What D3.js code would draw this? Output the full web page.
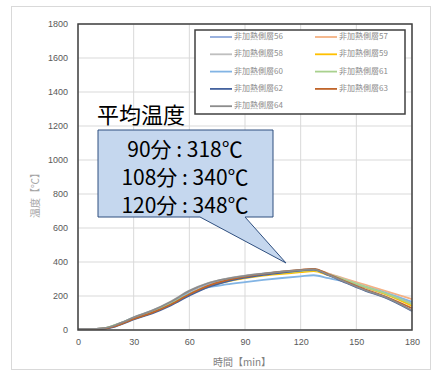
<!DOCTYPE html>
<html>
<head>
<meta charset="utf-8">
<script src="https://cdn.jsdelivr.net/npm/d3@7"></script>
<style>
  body { margin: 0; background: #fff; }
  svg text { font-family: "Noto Sans CJK JP", "Noto Sans", sans-serif; }
</style>
</head>
<body>
<svg id="chart" width="434" height="372"></svg>
<script>
// minutes
var times = [0, 10, 15, 20, 25, 30, 40, 50, 60, 70, 80, 90, 100, 110, 120, 127, 135, 145, 155, 165, 180];

var s56 = [5, 6, 11, 27, 48, 72, 110, 162, 225, 270, 298, 317, 331, 342, 351, 356, 328, 290, 252, 215, 155];
var s57 = [5, 6, 10, 26, 47, 70, 106, 156, 214, 260, 290, 311, 327, 339, 350, 357, 332, 298, 265, 232, 182];
var s58 = [6, 7, 12, 29, 50, 75, 115, 168, 232, 276, 302, 320, 333, 344, 353, 358, 330, 293, 256, 220, 162];
var s59 = [5, 6, 10, 24, 44, 66, 102, 150, 208, 254, 284, 305, 320, 330, 340, 346, 322, 287, 250, 214, 142];
var s60 = [5, 6, 11, 28, 49, 73, 112, 160, 215, 250, 268, 282, 295, 306, 316, 322, 305, 282, 253, 222, 166];
var s61 = [6, 7, 13, 30, 50, 72, 108, 155, 212, 258, 288, 309, 325, 337, 347, 353, 328, 290, 254, 218, 152];
var s62 = [5, 5, 8, 20, 40, 62, 98, 145, 202, 252, 285, 308, 325, 338, 350, 356, 322, 275, 230, 193, 112];
var s63 = [5, 6, 9, 23, 43, 65, 102, 150, 210, 260, 292, 314, 330, 343, 354, 360, 328, 282, 238, 200, 128];
var s64 = [6, 7, 12, 28, 50, 74, 114, 166, 230, 275, 301, 319, 332, 343, 352, 357, 324, 278, 233, 196, 115];

var seriesNames = ["非加熱側層56", "非加熱側層57", "非加熱側層58", "非加熱側層59", "非加熱側層60",
                   "非加熱側層61", "非加熱側層62", "非加熱側層63", "非加熱側層64"];
var seriesValues = [s56, s57, s58, s59, s60, s61, s62, s63, s64];
var seriesColors = ["#8faadc", "#f4b183", "#bfbfbf", "#ffc000", "#82b4e4",
                    "#a9d18e", "#44629e", "#c0652a", "#8c8c8c"];

var xTicks = [0, 30, 60, 90, 120, 150, 180];
var yTicks = [0, 200, 400, 600, 800, 1000, 1200, 1400, 1600, 1800];

var calloutTitle = "平均温度";
var calloutLines = ["90分 : 318℃", "108分 : 340℃", "120分 : 348℃"];

var svg = d3.select("#chart");

// outer chart border
svg.append("rect")
    .attr("x", 11.5).attr("y", 6.5)
    .attr("width", 419).attr("height", 363)
    .attr("fill", "#fff")
    .attr("stroke", "#d9d9d9");

var plot = { left: 78, right: 412, top: 24, bottom: 330 };

var x = d3.scaleLinear().domain([0, 180]).range([plot.left, plot.right]);
var y = d3.scaleLinear().domain([0, 1800]).range([plot.bottom, plot.top]);

// grid
svg.append("g")
    .selectAll("line.h")
    .data(yTicks)
    .enter()
    .append("line")
    .attr("x1", plot.left).attr("x2", plot.right)
    .attr("y1", d => y(d)).attr("y2", d => y(d))
    .attr("stroke", "#d9d9d9");

svg.append("g")
    .selectAll("line.v")
    .data(xTicks)
    .enter()
    .append("line")
    .attr("y1", plot.top).attr("y2", plot.bottom)
    .attr("x1", d => x(d)).attr("x2", d => x(d))
    .attr("stroke", "#d9d9d9");

// axes (labels only)
var yAxis = svg.append("g")
    .attr("transform", "translate(" + plot.left + ",0)")
    .call(d3.axisLeft(y).tickValues(yTicks).tickFormat(d3.format("d")).tickSize(0).tickPadding(10));
var xAxis = svg.append("g")
    .attr("transform", "translate(0," + plot.bottom + ")")
    .call(d3.axisBottom(x).tickValues(xTicks).tickFormat(d3.format("d")).tickSize(0).tickPadding(9));
[xAxis, yAxis].forEach(a => {
    a.select(".domain").remove();
    a.selectAll("text")
        .attr("fill", "#595959")
        .style("font-size", "9px")
        .style("font-family", "'Liberation Sans', sans-serif");
});

// lines
var line = d3.line()
    .x((d, i) => x(times[i]))
    .y(d => y(d))
    .curve(d3.curveMonotoneX);

svg.append("g")
    .selectAll("path")
    .data(seriesValues)
    .enter()
    .append("path")
    .attr("d", d => line(d))
    .attr("fill", "none")
    .attr("stroke", (d, i) => seriesColors[i])
    .attr("stroke-width", 1.8);

// plot border
svg.append("rect")
    .attr("x", plot.left).attr("y", plot.top)
    .attr("width", plot.right - plot.left)
    .attr("height", plot.bottom - plot.top)
    .attr("fill", "none")
    .attr("stroke", "#404040")
    .attr("stroke-width", 1.5);

// axis titles
svg.append("text")
    .attr("transform", "translate(36,193) rotate(-90)")
    .attr("text-anchor", "middle")
    .attr("dominant-baseline", "middle")
    .attr("fill", "#a6a6a6")
    .style("font-size", "10px")
    .text("温度【℃】");

svg.append("text")
    .attr("x", 242).attr("y", 363)
    .attr("text-anchor", "middle")
    .attr("dominant-baseline", "middle")
    .attr("fill", "#808080")
    .style("font-size", "10px")
    .text("時間【min】");

// legend
var legend = svg.append("g");
legend.append("rect")
    .attr("x", 195).attr("y", 30)
    .attr("width", 210).attr("height", 84)
    .attr("fill", "#fff")
    .attr("stroke", "#404040")
    .attr("stroke-width", 1.5);

var items = legend.selectAll("g.item")
    .data(seriesNames)
    .enter()
    .append("g")
    .attr("transform", (d, i) => "translate(" + (i % 2 ? 315 : 210) + "," + (37 + Math.floor(i / 2) * 17.3) + ")");
items.append("line")
    .attr("x1", 0).attr("x2", 22)
    .attr("stroke", (d, i) => seriesColors[i])
    .attr("stroke-width", 1.8);
items.append("text")
    .attr("x", 24)
    .attr("dominant-baseline", "middle")
    .attr("fill", "#8c8c8c")
    .style("font-size", "8px")
    .text(d => d);

// callout
var callout = svg.append("g");
callout.append("path")
    .attr("d", "M98,130 H273 V217 H245 L286,263 L200,217 H98 Z")
    .attr("fill", "#c5d7ee")
    .attr("stroke", "#2f4f7f")
    .attr("stroke-width", 1);
callout.append("text")
    .attr("x", 97).attr("y", 123)
    .attr("fill", "#000")
    .style("font-size", "22px")
    .text(calloutTitle);
callout.selectAll("text.l")
    .data(calloutLines)
    .enter()
    .append("text")
    .attr("x", 185)
    .attr("y", (d, i) => 148 + i * 28)
    .attr("text-anchor", "middle")
    .attr("dominant-baseline", "central")
    .attr("fill", "#000")
    .style("font-size", "21px")
    .text(d => d);
</script>
</body>
</html>
